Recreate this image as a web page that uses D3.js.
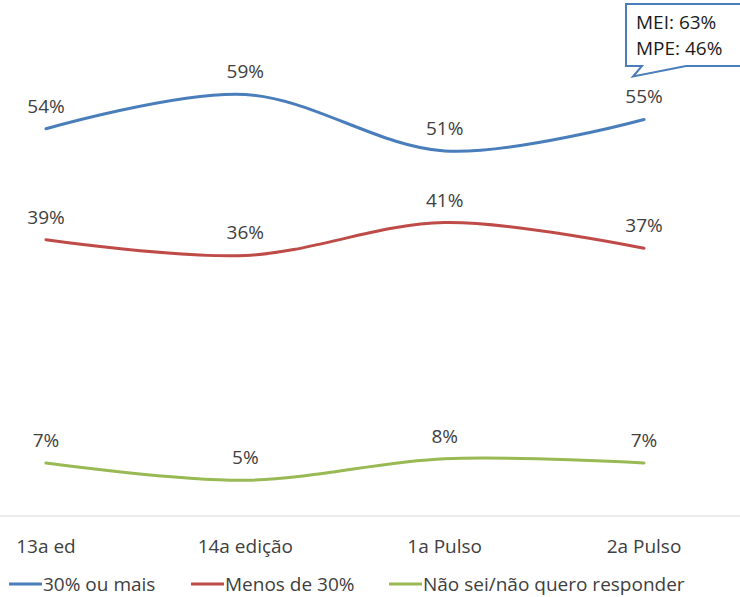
<!DOCTYPE html>
<html>
<head>
<meta charset="utf-8">
<script src="https://cdn.jsdelivr.net/npm/d3@7"></script>
<style>
  body { margin: 0; background: #fff; }
  svg { display: block; font-family: "Open Sans", sans-serif; }
</style>
</head>
<body>
<div id="chart"></div>
<script>
const categories = ['13a ed', '14a edição', '1a Pulso', '2a Pulso'];
const seriesNames = ['30% ou mais', 'Menos de 30%', 'Não sei/não quero responder'];
const valuesMais = [54.1, 58.9, 51.0, 55.4];
const valuesMenos = [38.6, 36.4, 41.0, 37.4];
const valuesNaoSei = [7.4, 5.0, 8.0, 7.4];
const calloutLines = ['MEI: 63%', 'MPE: 46%'];

const width = 740;
const height = 597;
const margin = { top: 15, right: 96, bottom: 81, left: 46 };

const series = [
    { name: seriesNames[0], values: valuesMais, color: '#4a7ebb' },
    { name: seriesNames[1], values: valuesMenos, color: '#be4b48' },
    { name: seriesNames[2], values: valuesNaoSei, color: '#98b954' }
];

const x = d3.scalePoint()
    .domain(categories)
    .range([margin.left, 644]);

const y = d3.scaleLinear()
    .domain([0, 70])
    .range([height - margin.bottom, margin.top]);

const svg = d3.select('#chart')
    .append('svg')
    .attr('width', width)
    .attr('height', height);

// eixo x (linha base)
svg.append('line')
    .attr('x1', 0)
    .attr('x2', width)
    .attr('y1', y(0))
    .attr('y2', y(0))
    .attr('stroke', '#d9d9d9')
    .attr('stroke-width', 1);

svg.append('g')
    .selectAll('text')
    .data(categories)
    .join('text')
    .attr('x', d => x(d))
    .attr('y', y(0) + 37)
    .attr('text-anchor', 'middle')
    .attr('font-size', '19px')
    .attr('fill', '#404040')
    .text(d => d);

// linhas suavizadas
const line = d3.line()
    .x((d, i) => x(categories[i]))
    .y(d => y(d))
    .curve(d3.curveCardinal.tension(0));

series.forEach(s => {
    svg.append('path')
        .datum(s.values)
        .attr('fill', 'none')
        .attr('stroke', s.color)
        .attr('stroke-width', 3)
        .attr('stroke-linecap', 'round')
        .attr('d', line);

    svg.append('g')
        .selectAll('text')
        .data(s.values)
        .join('text')
        .attr('x', (d, i) => x(categories[i]))
        .attr('y', d => y(d) - 16)
        .attr('text-anchor', 'middle')
        .attr('font-size', '19px')
        .attr('fill', '#404040')
        .text(d => d3.format('.0f')(d) + '%');
});

// legenda
const legendX = [9, 191, 389];
const legend = svg.append('g')
    .selectAll('g')
    .data(series)
    .join('g')
    .attr('transform', (d, i) => `translate(${legendX[i]}, 584)`);

legend.append('line')
    .attr('x1', 0)
    .attr('x2', 33)
    .attr('stroke', d => d.color)
    .attr('stroke-width', 3);

legend.append('text')
    .attr('x', 34)
    .attr('y', 7)
    .attr('font-size', '19px')
    .attr('fill', '#404040')
    .text(d => d.name);

// balão de destaque
const tipX = x(categories[3]) - 11;
const tipY = y(valuesMais[3]) - 43;
const box = { left: 626, top: 4, right: 770, bottom: 66 };

svg.append('path')
    .attr('d', `M${box.left},${box.top} H${box.right} V${box.bottom} H686 L${tipX},${tipY} L642,${box.bottom} H${box.left} Z`)
    .attr('fill', '#fff')
    .attr('stroke', '#4a7ebb')
    .attr('stroke-width', 2)
    .attr('stroke-linejoin', 'miter');

svg.append('g')
    .selectAll('text')
    .data(calloutLines)
    .join('text')
    .attr('x', 636)
    .attr('y', (d, i) => 29 + i * 26)
    .attr('font-size', '19px')
    .attr('fill', '#1a1a1a')
    .text(d => d);
</script>
</body>
</html>
